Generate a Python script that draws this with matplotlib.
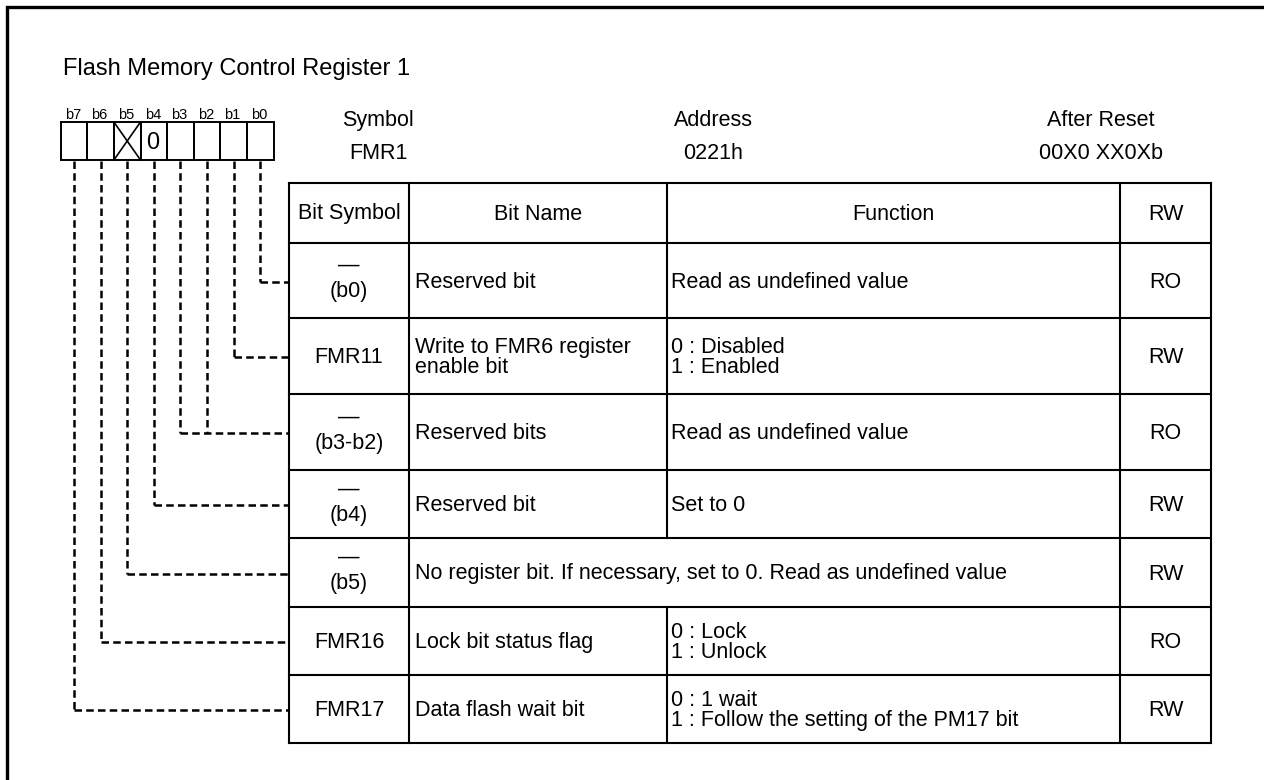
import matplotlib
matplotlib.use("Agg")
from matplotlib import pyplot as plt

plt.rcParams['font.family'] = ['Liberation Sans', 'DejaVu Sans']

# -------------- DATA --------------
title = "Flash Memory Control Register 1"

bit_labels = ['b7', 'b6', 'b5', 'b4', 'b3', 'b2', 'b1', 'b0']
# '' = empty box, 'X' = crossed out (no bit), anything else = fixed value
bit_values = ['', '', 'X', '0', '', '', '', '']

info_titles = ['Symbol', 'Address', 'After Reset']
info_values = ['FMR1', '0221h', '00X0 XX0Xb']

col_headers = ['Bit Symbol', 'Bit Name', 'Function', 'RW']

row_symbols = ['(b0)', 'FMR11', '(b3-b2)', '(b4)', '(b5)', 'FMR16', 'FMR17']
row_reserved = [True, False, True, True, True, False, False]
row_names = ['Reserved bit', 'Write to FMR6 register\nenable bit', 'Reserved bits',
             'Reserved bit', None, 'Lock bit status flag', 'Data flash wait bit']
row_functions = ['Read as undefined value', '0 : Disabled\n1 : Enabled',
                 'Read as undefined value', 'Set to 0',
                 'No register bit. If necessary, set to 0. Read as undefined value',
                 '0 : Lock\n1 : Unlock',
                 '0 : 1 wait\n1 : Follow the setting of the PM17 bit']
row_rw = ['RO', 'RW', 'RO', 'RW', 'RW', 'RO', 'RW']
row_bits = [[0], [1], [3, 2], [4], [5], [6], [7]]

# -------------- LAYOUT (pixels, y down) --------------
box_x0, box_w = 60.7, 26.6
box_top, box_bot = 122, 160
col_x = [289, 409, 667, 1120, 1211]
row_y = [183, 243, 318, 394, 470, 538, 607, 675, 743]
info_x = [378, 713, 1101]

fs = 15.5
fig = plt.figure(figsize=(12.64, 7.8), dpi=100)
ax = fig.add_axes([0, 0, 1, 1])
ax.set_xlim(0, 1264)
ax.set_ylim(780, 0)
ax.axis('off')

# frame (left and top only)
ax.plot([6.7, 6.7, 1264], [780, 6.7, 6.7], color='black', lw=2.4, solid_joinstyle='miter')

ax.text(63, 75, title, fontsize=17, va='baseline', ha='left')

# -------------- BIT BOXES --------------
def bit_cx(bit):
    i = 7 - bit
    return box_x0 + box_w * (i + 0.5)

for i, (lab, val) in enumerate(zip(bit_labels, bit_values)):
    x0 = box_x0 + i * box_w
    ax.add_patch(plt.Rectangle((x0, box_top), box_w, box_bot - box_top,
                               fill=False, lw=1.4, ec='black'))
    ax.text(x0 + box_w / 2 - 1, 119, lab, fontsize=10.5, ha='center', va='baseline')
    if val == 'X':
        ax.plot([x0, x0 + box_w], [box_top, box_bot], color='black', lw=1.2)
        ax.plot([x0, x0 + box_w], [box_bot, box_top], color='black', lw=1.2)
    elif val:
        ax.text(x0 + box_w / 2 - 1, 149, val, fontsize=17, ha='center', va='baseline')

for x, t, v in zip(info_x, info_titles, info_values):
    ax.text(x, 126, t, fontsize=fs, ha='center', va='baseline')
    ax.text(x, 159, v, fontsize=fs, ha='center', va='baseline')

# -------------- TABLE --------------
tlw = 1.5
for y in row_y:
    ax.plot([col_x[0], col_x[-1]], [y, y], color='black', lw=tlw)
for k, x in enumerate(col_x):
    if k == 2:
        # function column border is interrupted by merged row (b5)
        ax.plot([x, x], [row_y[0], row_y[5]], color='black', lw=tlw)
        ax.plot([x, x], [row_y[6], row_y[-1]], color='black', lw=tlw)
    else:
        ax.plot([x, x], [row_y[0], row_y[-1]], color='black', lw=tlw)

hy = (row_y[0] + row_y[1]) / 2 + 1
for k, h in enumerate(col_headers):
    ax.text((col_x[k] + col_x[k + 1]) / 2, hy, h, fontsize=fs, ha='center', va='center')

dash = (0, (3.0, 1.7))
for r in range(len(row_symbols)):
    top, bot = row_y[r + 1], row_y[r + 2]
    cy = (top + bot) / 2
    sx = (col_x[0] + col_x[1]) / 2
    ty = cy + 1.5
    if row_reserved[r]:
        ax.text(sx, cy - 15, '—', fontsize=fs, ha='center', va='center')
        ax.text(sx, cy + 11, row_symbols[r], fontsize=fs, ha='center', va='center')
    else:
        ax.text(sx, ty, row_symbols[r], fontsize=fs, ha='center', va='center')
    if row_names[r] is None:
        ax.text(col_x[1] + 6, ty, row_functions[r], fontsize=fs, ha='left', va='center')
    else:
        ax.text(col_x[1] + 6, ty, row_names[r], fontsize=fs, ha='left', va='center',
                linespacing=0.9)
        ax.text(col_x[2] + 4, ty, row_functions[r], fontsize=fs, ha='left', va='center',
                linespacing=0.9)
    ax.text((col_x[3] + col_x[4]) / 2, ty, row_rw[r], fontsize=fs, ha='center', va='center')

    # dashed leader lines from bit boxes
    ly = cy + 1
    xs = [bit_cx(b) for b in row_bits[r]]
    for x in xs:
        ax.plot([x, x], [box_bot + 1, ly], color='black', lw=1.8, ls=dash)
    ax.plot([min(xs), col_x[0]], [ly, ly], color='black', lw=1.8, ls=dash)

fig.savefig('out.png', dpi=100)
